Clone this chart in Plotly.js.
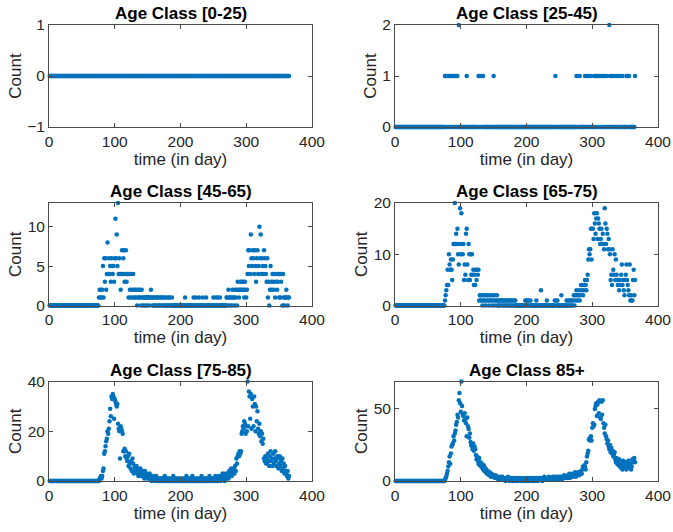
<!DOCTYPE html>
<html>
<head>
<meta charset="utf-8">
<script src="https://cdn.plot.ly/plotly-3.0.1.min.js"></script>
<style>html,body{margin:0;padding:0;background:#fff;}#chart{width:673px;height:532px;}</style>
</head>
<body>
<div id="chart"></div>
<script>
// Panel titles
const panelTitles = ["Age Class [0-25)", "Age Class [25-45)", "Age Class [45-65)", "Age Class [65-75)", "Age Class [75-85)", "Age Class 85+"];
const xTickVals = [0, 100, 200, 300, 400];
const xLabel = "time (in day)";
const yLabel = "Count";

// Daily counts, day 1 .. day 365
const count_0_25 = [
0,0,0,0,0,0,0,0,0,0, 0,0,0,0,0,0,0,0,0,0, 0,0,0,0,0,0,0,0,0,0, 0,0,0,0,0,0,0,0,0,0,
0,0,0,0,0,0,0,0,0,0, 0,0,0,0,0,0,0,0,0,0, 0,0,0,0,0,0,0,0,0,0, 0,0,0,0,0,0,0,0,0,0,
0,0,0,0,0,0,0,0,0,0, 0,0,0,0,0,0,0,0,0,0, 0,0,0,0,0,0,0,0,0,0, 0,0,0,0,0,0,0,0,0,0,
0,0,0,0,0,0,0,0,0,0, 0,0,0,0,0,0,0,0,0,0, 0,0,0,0,0,0,0,0,0,0, 0,0,0,0,0,0,0,0,0,0,
0,0,0,0,0,0,0,0,0,0, 0,0,0,0,0,0,0,0,0,0, 0,0,0,0,0,0,0,0,0,0, 0,0,0,0,0,0,0,0,0,0,
0,0,0,0,0,0,0,0,0,0, 0,0,0,0,0,0,0,0,0,0, 0,0,0,0,0,0,0,0,0,0, 0,0,0,0,0,0,0,0,0,0,
0,0,0,0,0,0,0,0,0,0, 0,0,0,0,0,0,0,0,0,0, 0,0,0,0,0,0,0,0,0,0, 0,0,0,0,0,0,0,0,0,0,
0,0,0,0,0,0,0,0,0,0, 0,0,0,0,0,0,0,0,0,0, 0,0,0,0,0,0,0,0,0,0, 0,0,0,0,0,0,0,0,0,0,
0,0,0,0,0,0,0,0,0,0, 0,0,0,0,0,0,0,0,0,0, 0,0,0,0,0,0,0,0,0,0, 0,0,0,0,0,0,0,0,0,0,
0,0,0,0,0];

const count_25_45 = [
0,0,0,0,0,0,0,0,0,0, 0,0,0,0,0,0,0,0,0,0, 0,0,0,0,0,0,0,0,0,0, 0,0,0,0,0,0,0,0,0,0,
0,0,0,0,0,0,0,0,0,0, 0,0,0,0,0,0,0,0,0,0, 0,0,0,0,0,0,0,0,0,0, 0,0,0,0,0,
1,1,0,1,0,
1,0,1,0,1,0,1,0,1,0, 1,0,1,0,1,0,2,0,0,0, 0,0,0,0,0,0,0,0,1,0, 0,0,0,0,0,0,0,0,0,0,
0,0,0,0,0,0,1,0,1,0, 1,0,0,1,0,0,0,0,0,0, 0,0,0,0,0,0,0,0,0,1,
0,0,0,0,0,0,0,0,0,0, 0,0,0,0,0,0,0,0,0,0, 0,0,0,0,0,0,0,0,0,0, 0,0,0,0,0,0,0,0,0,0,
0,0,0,0,0,0,0,0,0,0, 0,0,0,0,0,0,0,0,0,0, 0,0,0,0,0,0,0,0,0,0, 0,0,0,0,0,0,0,0,0,0,
0,0,0,0,0,0,0,0,0,0,
0,0,0,1,0,0,0,0,0,0, 0,0,0,0,0,0,0,0,0,0, 0,0,0,0,0,0,0,0,0,0,
0,0,0,0,0,1,0,1,0,0, 1,0,0,0,0,0,0,0,1,0, 1,0,1,0,1,0,0,1,0,0,
0,0,1,0,1,0,1,0,1,0, 1,0,1,0,1,0,1,0,1,0, 0,1,0,0,0,2,1,0,1,0,
1,0,0,1,0,0,1,0,0,1, 0,0,1,0,0,1,0,0,0,0, 0,1,0,1,0,1,0,0,0,0,
0,0,0,0,1];

const count_45_65 = [
0,0,0,0,0,0,0,0,0,0, 0,0,0,0,0,0,0,0,0,0, 0,0,0,0,0,0,0,0,0,0, 0,0,0,0,0,0,0,0,0,0,
0,0,0,0,0,0,0,0,0,0, 0,0,0,0,0,0,0,0,0,0, 0,0,0,0,0,0,0,0,0,0, 0,0,0,0,0,
1,2,1,2,1,
2,5,1,6,3,6,2,4,8,4, 6,4,5,3,6,5,4,5,3,6, 11,6,9,5,13,4,6,4,2,4, 7,4,6,7,3,4,7,3,4,4,
1,4,2,1,4,2,1,4,2,1, 2,1,2,0,1,2,1,2,1,0, 2,1,0,1,1,0,1,1,0,1, 1,0,1,1,2,1,0,1,1,0,
0,1,0,1,1,0,0,1,0,1, 1,0,0,1,0,1,0,0,1,0, 0,1,0,1,0,0,1,0,0,0, 0,0,0,0,0,0,0,0,0,0,
0,0,0,0,0,0,1,0,0,0, 0,0,0,0,0,0,0,0,0,1, 0,0,1,0,0,0,0,1,0,0, 0,0,0,1,0,0,0,0,1,0,
0,0,0,0,0,0,0,0,0,1, 0,0,0,1,0,0,1,0,0,1, 0,0,0,0,0,0,0,0,0,1, 1,0,2,1,0,1,1,0,2,1,
1,0,2,1,2,0,3,2,1,2, 3,2,3,2,3,2,1,3,2,1, 2,4,7,5,7,4,9,6,5,7, 6,4,7,5,3,6,7,4,5,10,
6,9,4,6,5,4,7,6,5,4, 3,6,1,3,0,2,5,3,2,4, 3,2,4,1,3,4,2,3,4,1, 4,1,3,4,0,4,1,0,1,1,
2,1,0,1,1];

const count_65_75 = [
0,0,0,0,0,0,0,0,0,0, 0,0,0,0,0,0,0,0,0,0, 0,0,0,0,0,0,0,0,0,0, 0,0,0,0,0,0,0,0,0,0,
0,0,0,0,0,0,0,0,0,0, 0,0,0,0,0,0,0,0,0,0, 0,0,0,0,0,0,0,0,0,0, 0,0,0,0,0,
1,2,3,4,7,
4,10,8,7,9,7,5,9,12,12, 20,12,14,12,15,10,8,12,19,10, 18,12,10,12,5,8,6,14,15,8, 5,12,10,5,10,6,10,6,7,4,
6,4,7,5,7,6,7,1,2,1, 2,1,0,2,1,2,1,0,2,1, 2,1,0,2,1,2,1,0,1,2, 2,0,1,1,2,0,1,0,1,0,
1,1,0,1,0,1,1,0,1,0, 1,0,1,0,1,0,1,0,1,0, 1,0,1,0,0,0,0,0,0,0, 0,0,0,0,0,0,0,1,0,1,
0,1,0,1,0,1,0,0,0,0, 0,0,0,0,1,0,0,0,0,0, 0,3,0,0,0,0,0,0,0,0, 1,0,0,0,0,0,0,0,0,0,
0,0,1,0,1,0,1,0,0,0, 0,0,2,0,0,0,0,0,0,0, 1,0,1,0,1,0,1,0,1,0, 1,2,0,2,1,3,2,1,2,3,
1,2,4,3,4,2,3,4,5,4, 3,5,6,9,11,10,11,15,9,15, 15,13,18,16,14,17,18,13,17,16, 15,12,13,15,12,14,12,11,19,16,
12,15,14,11,13,11,10,5,6,4, 11,7,6,10,5,9,6,5,4,5, 3,5,4,6,8,4,5,3,2,5, 6,8,5,4,3,2,8,1,2,1,
1,5,7,2,5];

const count_75_85 = [
0,0,0,0,0,0,0,0,0,0, 0,0,0,0,0,0,0,0,0,0, 0,0,0,0,0,0,0,0,0,0, 0,0,0,0,0,0,0,0,0,0,
0,0,0,0,0,0,0,0,0,0, 0,0,0,0,0,0,0,0,0,0, 0,0,0,0,0,0,0,0,0,0, 0,0,0,0,0,
0,1,1,2,1,
2,4,5,11,12,14,16,17,20,19, 21,24,29,26,34,33,35,34,25,33, 32,31,30,31,23,21,20,9,22,21, 20,19,12,12,13,10,12,9,8,10,
6,11,7,5,8,4,9,7,3,6, 5,4,6,3,5,2,4,3,5,2, 3,4,2,3,1,4,2,3,1,2, 2,1,3,1,2,0,1,2,1,1,
0,1,2,1,0,1,1,0,1,0, 1,0,1,1,0,2,0,1,0,1, 0,1,0,1,0,0,1,0,2,0, 1,0,1,0,0,1,0,1,0,0,
1,0,0,1,0,1,0,0,2,0, 1,0,1,0,0,1,0,2,0,1, 0,1,0,0,1,0,1,0,0,1, 0,2,0,1,0,0,1,0,1,0,
1,0,0,2,1,0,1,0,1,0, 1,0,2,1,0,1,0,2,1,1, 0,2,1,3,1,2,0,2,3,1, 2,3,1,4,2,3,5,2,4,3,
5,3,6,4,9,7,10,11,10,12, 11,12,19,20,22,21,24,23,19,22, 20,40,22,36,34,25,35,21,33,30, 22,34,31,20,30,24,28,21,19,23,
18,20,16,19,15,17,9,8,10,7, 9,7,11,8,6,10,12,8,9,6, 11,7,9,12,8,6,10,9,5,7, 10,6,8,4,9,5,7,3,6,4,
3,2,4,1,2];

const count_85plus = [
0,0,0,0,0,0,0,0,0,0, 0,0,0,0,0,0,0,0,0,0, 0,0,0,0,0,0,0,0,0,0, 0,0,0,0,0,0,0,0,0,0,
0,0,0,0,0,0,0,0,0,0, 0,0,0,0,0,0,0,0,0,0, 0,0,0,0,0,0,0,0,0,0, 0,0,0,0,0,
1,2,3,5,7,
10,13,17,12,19,24,25,26,31,28, 33,35,39,41,46,44,56,61,54,48, 69,52,46,45,42,47,43,40,31,44, 38,36,30,33,27,25,24,22,26,21,
24,22,18,15,17,14,12,16,11,13, 10,12,9,8,11,7,9,6,8,5, 7,6,4,6,5,3,5,4,3,4, 3,2,4,3,2,3,1,2,3,2,
1,2,3,1,2,1,2,0,1,2, 1,3,1,0,2,1,1,2,0,1, 2,1,0,1,2,1,0,1,2,1, 1,0,2,1,1,0,1,2,1,0,
1,2,1,0,1,2,1,1,0,2, 1,0,2,1,1,2,0,1,1,2, 2,1,1,0,2,1,3,1,2,1, 1,2,1,3,2,1,2,1,2,3,
2,1,3,2,1,2,3,2,1,3, 2,3,2,1,3,2,4,3,2,3, 3,2,4,3,5,2,4,3,5,4, 3,5,4,6,3,5,4,6,5,4,
6,5,7,5,8,10,9,11,10,8, 13,17,19,21,29,28,30,31,28,37, 40,38,39,50,52,54,45,53,55,47, 56,44,43,55,46,56,40,37,33,39,
31,29,26,28,24,22,25,20,23,19, 21,17,18,20,15,13,16,12,14,11, 15,10,13,9,12,8,14,10,11,9, 13,8,12,10,14,9,11,12,8,10,
15,13,14,16,13];

const seriesList = [count_0_25, count_25_45, count_45_65, count_65_75, count_75_85, count_85plus];
const yRanges = [[-1, 1], [0, 2], [0, 13], [0, 20], [0, 40], [0, 69]];
const yTicks = [[-1, 0, 1], [0, 1, 2], [0, 5, 10], [0, 10, 20], [0, 20, 40], [0, 50]];

const W = 673, H = 532;
const colsPx = [[49, 312], [395, 658]];
const rowsPx = [[25, 127], [203, 305.5], [381.5, 481]];

const FONT = "Arial, 'Liberation Sans', Helvetica, sans-serif";
const TXC = "#262626";
const AXC = "#4a4a4a";
const traces = [];
const layout = {
  width: W, height: H, autosize: false,
  margin: {l: 0, r: 0, t: 0, b: 0},
  paper_bgcolor: "#fff", plot_bgcolor: "#fff",
  showlegend: false,
  font: {family: FONT, color: TXC, size: 15},
  annotations: []
};

seriesList.forEach((vals, i) => {
  const r = Math.floor(i / 2), c = i % 2;
  const sfx = i === 0 ? "" : String(i + 1);
  const days = vals.map((_, k) => k + 1);
  traces.push({
    type: "scatter", mode: "markers",
    x: days, y: vals,
    xaxis: "x" + sfx, yaxis: "y" + sfx,
    marker: {color: "#0072BD", size: 4.5},
    cliponaxis: false, hoverinfo: "x+y"
  });
  const xd = [colsPx[c][0] / W, colsPx[c][1] / W];
  const yd = [1 - rowsPx[r][1] / H, 1 - rowsPx[r][0] / H];
  const common = {
    showline: true, mirror: "ticks", linecolor: AXC, linewidth: 1,
    ticks: "inside", ticklen: 4, tickcolor: AXC, tickwidth: 1,
    showgrid: false, zeroline: false,
    tickfont: {family: FONT, size: 15.5, color: TXC}
  };
  layout["xaxis" + sfx] = Object.assign({}, common, {
    domain: xd, range: [0, 400], tickvals: xTickVals,
    anchor: "y" + sfx,
    title: {text: xLabel, font: {family: FONT, size: 17, color: TXC}, standoff: 2}
  });
  layout["yaxis" + sfx] = Object.assign({}, common, {
    domain: yd, range: yRanges[i], tickvals: yTicks[i],
    anchor: "x" + sfx,
    title: {text: yLabel, font: {family: FONT, size: 17, color: TXC}, standoff: 1}
  });
  layout.annotations.push({
    text: "<b>" + panelTitles[i] + "</b>",
    xref: "paper", yref: "paper",
    x: (xd[0] + xd[1]) / 2, y: yd[1],
    xanchor: "center", yanchor: "bottom", yshift: 0,
    showarrow: false,
    font: {family: FONT, size: 17, color: "#000"}
  });
});

Plotly.newPlot("chart", traces, layout, {staticPlot: true, displayModeBar: false});
</script>
</body>
</html>
